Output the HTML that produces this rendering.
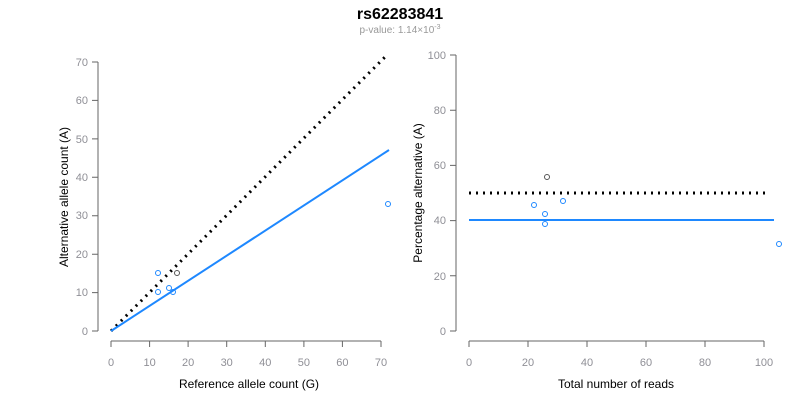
<!DOCTYPE html>
<html><head><style>body{margin:0;background:#fff}svg{display:block}</style></head><body>
<svg width="800" height="400" xmlns="http://www.w3.org/2000/svg" font-family="Liberation Sans, Arial, sans-serif">
<rect width="800" height="400" fill="#fff"/>
<text x="400" y="19" text-anchor="middle" font-size="16" font-weight="bold">rs62283841</text>
<text x="400" y="33" text-anchor="middle" font-size="10" fill="#999">p-value: 1.14×10<tspan dy="-4" font-size="7">-3</tspan></text>
<g stroke="#666" stroke-width="1" fill="none">
<path d="M98 62V331M98 62h-6M98 100.4h-6M98 138.9h-6M98 177.3h-6M98 215.7h-6M98 254.2h-6M98 292.6h-6M98 331h-6"/>
<path d="M111 341H381M111 341v6M149.6 341v6M188.1 341v6M226.7 341v6M265.3 341v6M303.9 341v6M342.4 341v6M381 341v6"/>
<path d="M456 55V331M456 55h-6M456 110.2h-6M456 165.4h-6M456 220.6h-6M456 275.8h-6M456 331h-6"/>
<path d="M469 341H764M469 341v6M528 341v6M587 341v6M646 341v6M705 341v6M764 341v6"/>
</g>
<g font-size="11" fill="#8f8f96" text-anchor="end">
<text x="88" y="66">70</text><text x="88" y="104">60</text><text x="88" y="143">50</text><text x="88" y="181">40</text><text x="88" y="219">30</text><text x="88" y="258">20</text><text x="88" y="296">10</text><text x="88" y="335">0</text>
<text x="446" y="59">100</text><text x="446" y="114">80</text><text x="446" y="169">60</text><text x="446" y="224">40</text><text x="446" y="280">20</text><text x="446" y="335">0</text>
</g>
<g font-size="11" fill="#8f8f96" text-anchor="middle">
<text x="111" y="366">0</text><text x="149.6" y="366">10</text><text x="188.1" y="366">20</text><text x="226.7" y="366">30</text><text x="265.3" y="366">40</text><text x="303.9" y="366">50</text><text x="342.4" y="366">60</text><text x="381" y="366">70</text>
<text x="469" y="366">0</text><text x="528" y="366">20</text><text x="587" y="366">40</text><text x="646" y="366">60</text><text x="705" y="366">80</text><text x="764" y="366">100</text>
</g>
<text x="249" y="388" text-anchor="middle" font-size="12">Reference allele count (G)</text>
<text x="616" y="388" text-anchor="middle" font-size="12">Total number of reads</text>
<text transform="translate(68 197) rotate(-90)" text-anchor="middle" font-size="12">Alternative allele count (A)</text>
<text transform="translate(422 193) rotate(-90)" text-anchor="middle" font-size="12">Percentage alternative (A)</text>
<line x1="111" y1="331" x2="386" y2="56" stroke="#000" stroke-width="3" stroke-dasharray="2 5"/>
<line x1="111" y1="331" x2="389" y2="150" stroke="#1e88ff" stroke-width="2"/>
<line x1="469" y1="193" x2="768" y2="193" stroke="#000" stroke-width="3" stroke-dasharray="2 5"/>
<line x1="469" y1="220" x2="774" y2="220" stroke="#1e88ff" stroke-width="2"/>
<g fill="none" stroke="#1e88ff" stroke-width="1">
<circle cx="158" cy="273" r="2.5"/><circle cx="158" cy="292" r="2.5"/><circle cx="169" cy="288" r="2.5"/><circle cx="173" cy="292" r="2.5"/><circle cx="388" cy="204" r="2.5"/>
<circle cx="534" cy="205" r="2.5"/><circle cx="545" cy="214" r="2.5"/><circle cx="545" cy="224" r="2.5"/><circle cx="563" cy="201" r="2.5"/><circle cx="779" cy="244" r="2.5"/>
</g>
<g fill="none" stroke="#555" stroke-width="1">
<circle cx="177" cy="273" r="2.5"/><circle cx="547" cy="177" r="2.5"/>
</g>
</svg>
</body></html>
